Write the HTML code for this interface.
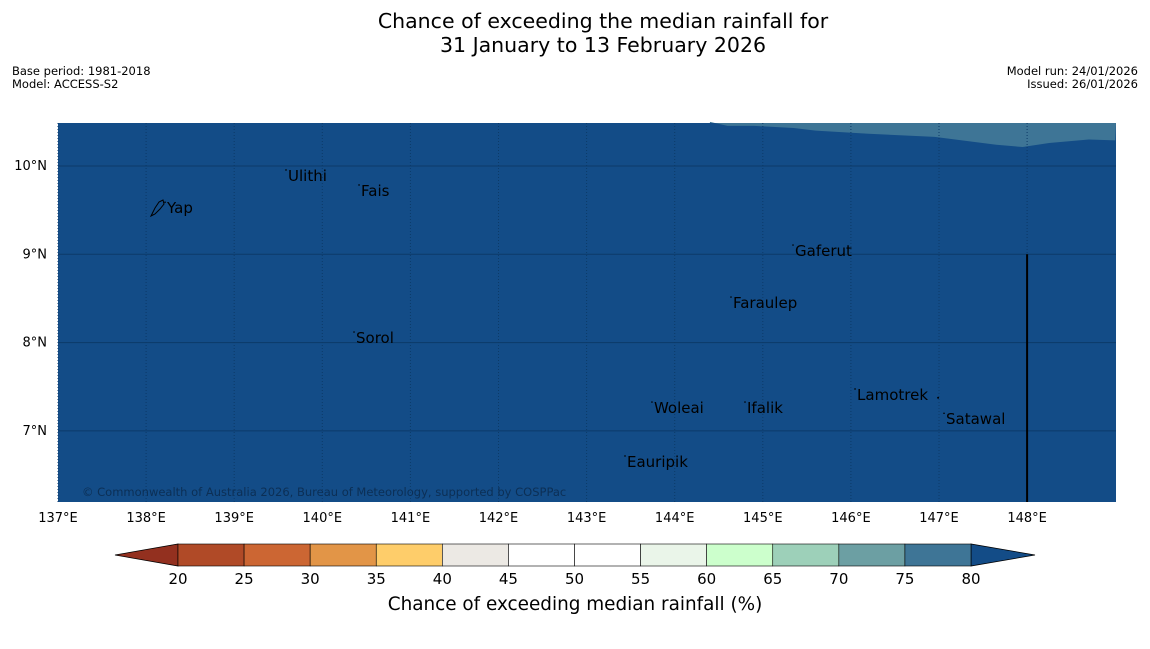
<!DOCTYPE html>
<html><head><meta charset="utf-8"><style>
body{margin:0;background:#fff;font-family:"Liberation Sans","DejaVu Sans",sans-serif;}
svg text{font-family:"DejaVu Sans","Liberation Sans",sans-serif;}
</style></head><body>
<svg id="c" width="1150" height="644" viewBox="0 0 1150 644">
<text x="603" y="28" text-anchor="middle" font-size="20.5">Chance of exceeding the median rainfall for</text>
<text x="603" y="52" text-anchor="middle" font-size="20.5">31 January to 13 February 2026</text>
<text x="12" y="75" font-size="11.5">Base period: 1981-2018</text>
<text x="12" y="88" font-size="11.5">Model: ACCESS-S2</text>
<text x="1138" y="75" font-size="11.5" text-anchor="end">Model run: 24/01/2026</text>
<text x="1138" y="88" font-size="11.5" text-anchor="end">Issued: 26/01/2026</text>
<g id="map"></g>
<g id="cbar"></g>
<text x="575" y="610" text-anchor="middle" font-size="18.4">Chance of exceeding median rainfall (%)</text>
</svg>
<script>
const lonTicks=[137,138,139,140,141,142,143,144,145,146,147,148];
const latTicks=[7,8,9,10];
const cbTicks=[20,25,30,35,40,45,50,55,60,65,70,75,80];
const cbColors=["#b04a27","#cc6633","#e29547","#fecd6a","#ece9e4","#ffffff","#ffffff","#eaf5e9","#ccffcc","#9dd0b9","#6c9fa3","#3e7596"];
const cbUnder="#93301f", cbOver="#134c87";
const places=[["Yap",138.215,9.59],["Ulithi",139.588,9.955],["Fais",140.417,9.785],["Gaferut",145.343,9.105],["Faraulep",144.639,8.516],["Sorol",140.36,8.12],["Woleai",143.742,7.327],["Ifalik",144.798,7.327],["Lamotrek",146.047,7.475],["Satawal",147.057,7.2],["Eauripik",143.436,6.716]];
const islets=[[146.99,7.375]];
const bandLon=[144.4,144.6,144.9,145.35,145.6,146.2,146.95,147.65,147.95,148.25,148.7,149];
const bandLat=[10.5,10.455,10.455,10.43,10.4,10.365,10.33,10.24,10.215,10.26,10.3,10.29];
const X0=58,X1=1116,Y0=123,Y1=502;
const lonX=l=>58+(l-137)*88.1;
const latY=l=>166+(10-l)*88.3;
const NS="http://www.w3.org/2000/svg";
function mk(t,a,p){const e=document.createElementNS(NS,t);for(const k in a)e.setAttribute(k,a[k]);p.appendChild(e);return e;}
const map=document.getElementById('map');
let r=mk('rect',{x:X0,y:Y0,width:X1-X0,height:Y1-Y0,fill:cbOver},map);


let d="M"+lonX(bandLon[0])+","+Y0;
bandLon.forEach((l,i)=>{d+=" L"+lonX(l)+","+latY(bandLat[i]);});
d+=" L"+X1+","+Y0+" Z";
let b=mk('path',{d:d,fill:"#3e7596"},map);


latTicks.forEach(t=>{
 const y=latY(t);
 let l=mk('line',{x1:X0,x2:X1,y1:y,y2:y,stroke:"#0c3a68","stroke-width":1},map);
 
 
 let tx=mk('text',{x:47,y:y+4,"font-size":13,"text-anchor":"end"},map);tx.textContent=t+"°N";
 
 
});
lonTicks.forEach(t=>{
 const x=lonX(t);
 let l=mk('line',{x1:x,x2:x,y1:Y0,y2:Y1,stroke:"#0c3a68","stroke-width":1,"stroke-dasharray":"1,2"},map);
 
 
 let tx=mk('text',{x:x,y:522,"font-size":13,"text-anchor":"middle"},map);tx.textContent=t+"°E";
 
 
});
let vl=mk('line',{x1:lonX(148),x2:lonX(148),y1:latY(9),y2:Y1,stroke:"#000","stroke-width":2},map);


places.forEach(p=>{
 const x=lonX(p[1]),y=latY(p[2]);
 let dot=mk('circle',{cx:x,cy:y,r:0.8,fill:"#000"},map);
 
 
 let tx=mk('text',{x:x+2,y:y+11,"font-size":15,fill:"#000"},map);tx.textContent=p[0];
 
 
});
islets.forEach(p=>{
 let dot=mk('circle',{cx:lonX(p[0]),cy:latY(p[1]),r:1,fill:"#000"},map);
 
 
});
let yi=mk('path',{d:"M151,216 L155,208 L159,202 L163,200 L164,204 L160,209 L155,214 Z",fill:"none",stroke:"#000","stroke-width":1},map);


let cp=mk('text',{x:82,y:496,"font-size":11.5,fill:"#0c2f55"},map);cp.textContent="© Commonwealth of Australia 2026, Bureau of Meteorology, supported by COSPPac";


const cb=document.getElementById('cbar');
const CB0=178,CB1=971,CBy0=544,CBy1=566;
const cbX=v=>CB0+(v-cbTicks[0])/(cbTicks[cbTicks.length-1]-cbTicks[0])*(CB1-CB0);
let tl=mk('polygon',{points:`115,555 ${CB0},${CBy0} ${CB0},${CBy1}`,fill:cbUnder,stroke:"#000","stroke-width":0.8},cb);


let tr=mk('polygon',{points:`1035,555 ${CB1},${CBy0} ${CB1},${CBy1}`,fill:cbOver,stroke:"#000","stroke-width":0.8},cb);


cbColors.forEach((c,i)=>{
 const x=cbX(cbTicks[i]),w=cbX(cbTicks[i+1])-x;
 let s=mk('rect',{x:x,y:CBy0,width:w,height:CBy1-CBy0,fill:c,stroke:"#000","stroke-width":0.6},cb);
 
 
});
cbTicks.forEach(t=>{
 let tx=mk('text',{x:cbX(t),y:584,"font-size":15,"text-anchor":"middle"},cb);tx.textContent=t;
 
 
});
</script>
</body></html>
